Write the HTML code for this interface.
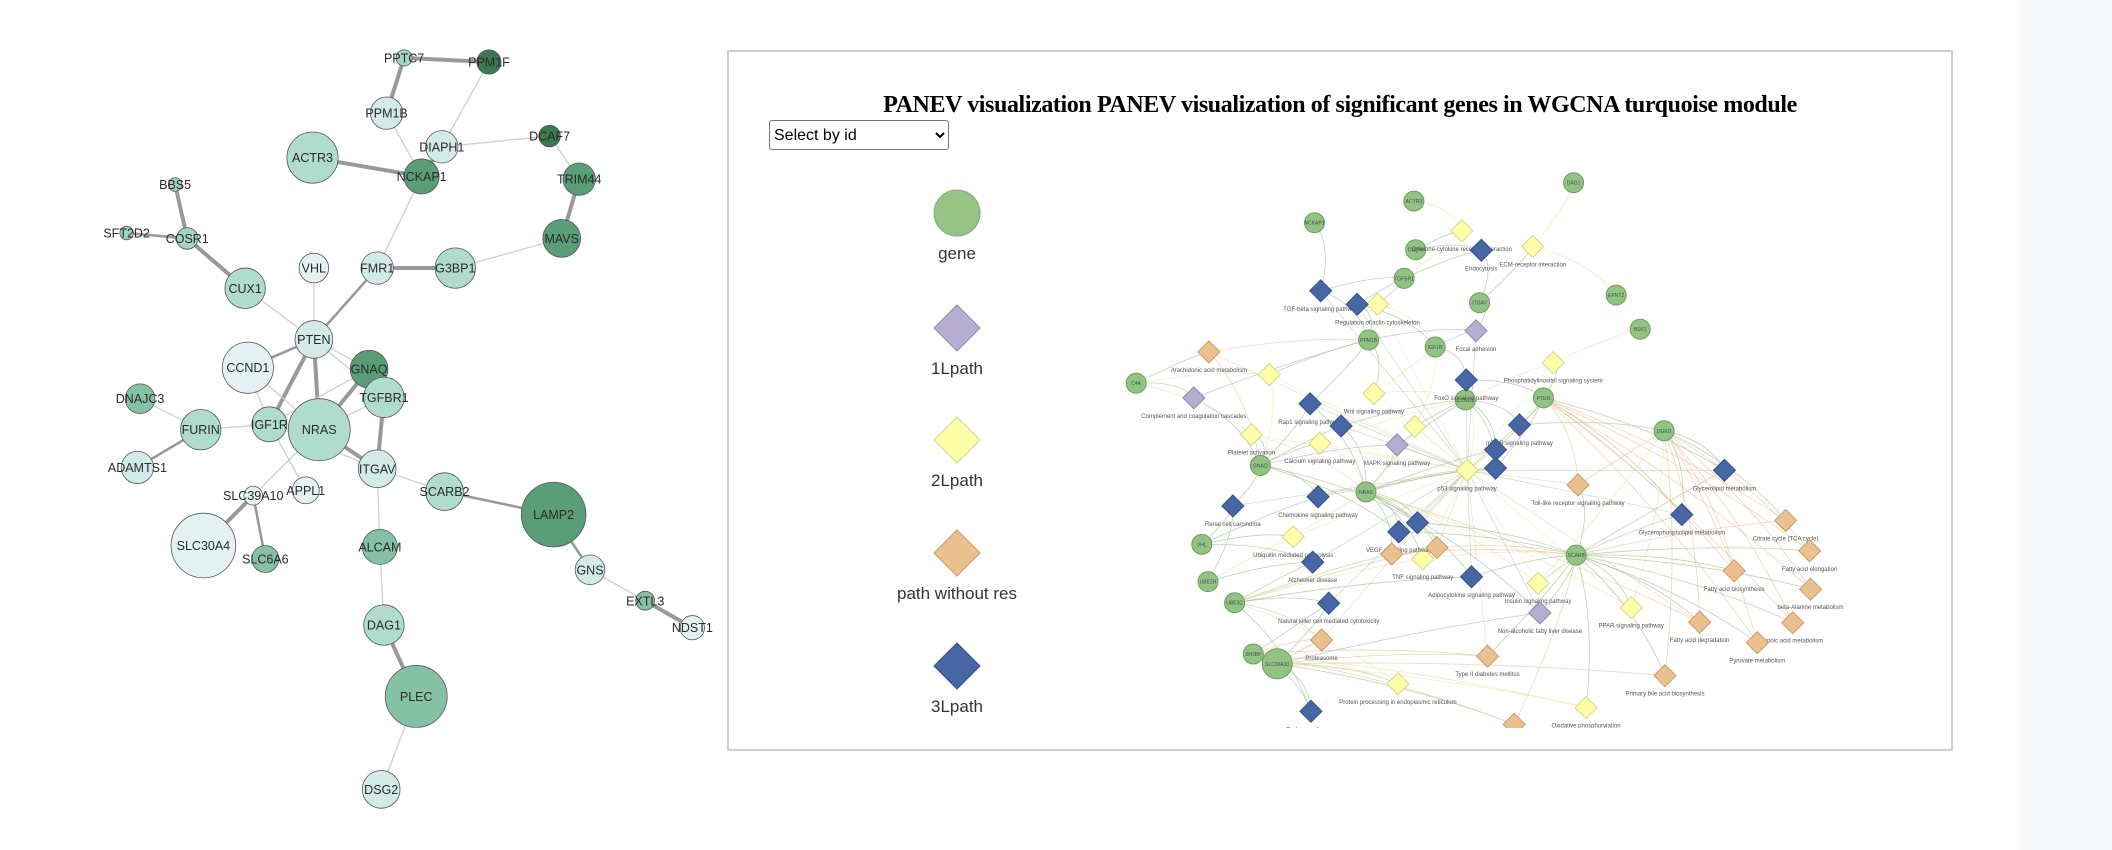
<!DOCTYPE html>
<html><head><meta charset="utf-8">
<style>
html,body{margin:0;padding:0;background:#fff;width:2112px;height:850px;overflow:hidden;font-family:"Liberation Sans",sans-serif}
#strip{position:absolute;left:2021px;top:0;width:91px;height:850px;background:#f7f8fa}
#left{position:absolute;left:0;top:0}
#panel{position:absolute;left:727px;top:50px;width:1222px;height:697px;border:2px solid #cfcfcf;box-sizing:content-box;background:#fff}
#title{position:absolute;left:0;width:1222px;top:40px;text-align:center;font-family:"Liberation Serif",serif;font-weight:bold;font-size:24px;color:#000;letter-spacing:-0.4px}
#sel{position:absolute;left:40px;top:68px;width:180px;height:30px;font-size:16px;border:1px solid #767676;border-radius:3px;background:#fff}
#right{position:absolute;left:0;top:0}
</style></head><body>
<div id="strip"></div>
<svg id="left" width="720" height="850"></svg>
<div id="panel">
<div id="title">PANEV visualization PANEV visualization of significant genes in WGCNA turquoise module</div>
<select id="sel"><option>Select by id</option></select>
<svg id="right" width="1222" height="697"></svg>
</div>
<script>
const NS="http://www.w3.org/2000/svg";
function mk(t,a,p){const e=document.createElementNS(NS,t);for(const k in a)e.setAttribute(k,a[k]);p.appendChild(e);return e;}
const geneNames=["PPTC7","PPM1F","PPM1B","DIAPH1","DCAF7","ACTR3","NCKAP1","TRIM44","BBS5","SFT2D2","COSR1","MAVS","CUX1","VHL","FMR1","G3BP1","PTEN","CCND1","GNAQ","TGFBR1","DNAJC3","FURIN","IGF1R","NRAS","ADAMTS1","ITGAV","APPL1","SLC39A10","SCARB2","LAMP2","SLC30A4","SLC6A6","ALCAM","GNS","EXTL3","NDST1","DAG1","PLEC","DSG2"];
const geneX=[300,363,287,328,408,232,313,430,130,94,139,417,182,233,280,338,233,184,274,285,104,149,200,237,102,280,227,188,330,411,151,197,282,438,479,514,285,309,283];
const geneY=[43,46,84,109,101,117,131,133,137,173,177,177,214,199,199,199,252,273,274,295,296,319,315,319,347,348,364,368,365,382,405,415,406,423,446,466,464,517,586];
const geneR=[6,9,12,12,8,19,13,12,5,5,8,14,15,11,12,15,14,19,14,15,11,15,13,23,12,14,10,7,14,24,24,10,13,11,7,9,15,23,14];
const geneShade=[3,6,1,1,6,2,5,5,3,3,3,5,2,0,1,2,1,0,5,2,4,2,2,2,1,1,0,0,2,5,0,4,4,1,4,0,2,4,1];
const shades=["#e4f2f4","#d3ebe8","#b0dccf","#a3d4c2","#86c1a6","#5a9e78","#3b7a4f"];
const edgeA=["PPTC7","PPTC7","PPM1B","PPM1F","DIAPH1","DIAPH1","DCAF7","TRIM44","ACTR3","NCKAP1","MAVS","FMR1","FMR1","BBS5","SFT2D2","COSR1","CUX1","VHL","PTEN","PTEN","PTEN","PTEN","PTEN","CCND1","CCND1","GNAQ","GNAQ","TGFBR1","TGFBR1","NRAS","IGF1R","IGF1R","IGF1R","NRAS","FURIN","FURIN","SLC39A10","SLC39A10","ITGAV","SCARB2","ITGAV","LAMP2","GNS","EXTL3","ALCAM","DAG1","PLEC"];
const edgeB=["PPM1F","PPM1B","NCKAP1","DIAPH1","NCKAP1","DCAF7","TRIM44","MAVS","NCKAP1","FMR1","G3BP1","G3BP1","PTEN","COSR1","COSR1","CUX1","PTEN","PTEN","CCND1","IGF1R","NRAS","GNAQ","TGFBR1","NRAS","IGF1R","NRAS","IGF1R","NRAS","ITGAV","ITGAV","FURIN","APPL1","ITGAV","SLC39A10","DNAJC3","ADAMTS1","SLC30A4","SLC6A6","SCARB2","LAMP2","ALCAM","GNS","EXTL3","NDST1","DAG1","PLEC","DSG2"];
const edgeW=[3,3,1,1,3,1,1,3,3,1,1,3,2,3,2,3,1,1,2,3,3,1,1,1,1,3,1,1,3,3,1,1,1,1,1,2,3,2,1,2,1,2,1,3,1,3,1];
const S=1.347;
const L=document.getElementById("left");
for(let i=0;i<edgeA.length;i++){const a=geneNames.indexOf(edgeA[i]),b=geneNames.indexOf(edgeB[i]);
 const ln=mk("line",{x1:geneX[a]*S,y1:geneY[a]*S,x2:geneX[b]*S,y2:geneY[b]*S,stroke:edgeW[i]>1?"#999":"#cfcfcf","stroke-width":edgeW[i]==3?4:edgeW[i]==2?2.6:1.3},L);
 
 }
for(let i=0;i<geneNames.length;i++){
 const c=mk("circle",{cx:geneX[i]*S,cy:geneY[i]*S,r:geneR[i]*S,fill:shades[geneShade[i]],stroke:"#555","stroke-width":0.8},L);
 
 
 const t=mk("text",{x:geneX[i]*S,y:geneY[i]*S+4.5,"text-anchor":"middle","font-size":12.5,fill:"#2a2a2a","font-family":"Liberation Sans, sans-serif"},L);
 t.textContent=geneNames[i];
 
 }
const R=document.getElementById("right");
function px(zx){return 720+zx/1.127-729;}
function py(zy){return zy/1.85-52;}
const rGeneX=[962,782,670,784,771,856,1010,1037,731,806,469,928,840,1064,609,728,543,550,580,601,628,965];
const rGeneY=[338,372,412,462,515,560,546,609,629,642,709,736,740,797,861,910,1007,1076,1115,1210,1228,1027];
const rGeneN=["DAG1","ACTR3","NCKAP1","DIAPH","TGFBR1","ITGAV","EPNT2","BSK1","PPM1B","IGF1R","C4A","PTEN","CCND1","DGKD","GNAQ","NRAS","VHL","UBE2H","UBE3C","SH3BP","SLC30A10","SCARB"];
const pathX=[836,916,741,939,619,737,783,599,676,842,646,792,922,1027,764,976, 852,534,763,924, 858,677,718,841,665,700,901,874,874,578,674,765,786,668,847,686,1132,1084,666, 551,967,757,808,1201,1228,1143,1229,1104,1209,1169,865,678,1065,895];
const pathY=[427,456,563,671,693,728,789,804,820,870,993,1034,1079,1124,1265,1309, 612,736,823,1134, 463,538,563,703,747,788,786,832,866,936,919,984,967,1040,1067,1116,870,952,1316, 651,897,1025,1013,963,1019,1056,1090,1151,1152,1189,1214,1184,1250,1340];
const pathType=[2,2,2,2,2,2,2,2,2,2,2,2,2,2,2,2, 1,1,1,1, 3,3,3,3,3,3,3,3,3,3,3,3,3,3,3,3,3,3,3, 0,0,0,0,0,0,0,0,0,0,0,0,0,0,0];
const pathN=["Cytokine-cytokine receptor interaction","ECM-receptor interaction","Regulation of actin cytoskeleton","Phosphatidylinositol signaling system","","Wnt signaling pathway","","Platelet activation","Calcium signaling pathway","p53 signaling pathway","Ubiquitin mediated proteolysis","TNF signaling pathway","Insulin signaling pathway","PPAR signaling pathway","Protein processing in endoplasmic reticulum","Oxidative phosphorylation","Focal adhesion","Complement and coagulation cascades","MAPK signaling pathway","Non-alcoholic fatty liver disease","Endocytosis","TGF-beta signaling pathway","","FoxO signaling pathway","Rap1 signaling pathway","","mTOR signaling pathway","","","Renal cell carcinoma","Chemokine signaling pathway","VEGF signaling pathway","","Alzheimer disease","Adipocytokine signaling pathway","Natural killer cell mediated cytotoxicity","Glycerolipid metabolism","Glycerophospholipid metabolism","Parkinson disease","Arachidonic acid metabolism","Toll-like receptor signaling pathway","","","Citrate cycle (TCA cycle)","Fatty acid elongation","Fatty acid biosynthesis","beta-Alanine metabolism","Fatty acid degradation","Lipoic acid metabolism","Pyruvate metabolism","Type II diabetes mellitus","Proteasome","Primary bile acid biosynthesis","Glycolysis / Gluconeogenesis"];
const fills=["#ebc28f","#b6aed0","#ffffaa","#4766a4"],strokes=["#c99a66","#9188b0","#d8d48a","#35528a"];
const ecol=["#e8c8a0","#b8b0d8","#e8e8b0","#a8c49a"];
const gClip=mk("clipPath",{id:"pc"},R);mk("rect",{x:0,y:0,width:1222,height:676},gClip);
const G=mk("g",{"clip-path":"url(#pc)"},R);
const hub=9;
for(let i=0;i<pathX.length;i++){
 const d=rGeneX.map((x,j)=>[(x-pathX[i])**2+(rGeneY[j]-pathY[i])**2,j]).sort((a,b)=>a[0]-b[0]);
 for(let k=0;k<3;k++){const j=d[k][1];
  const ln=mk("path",{d:`M${px(pathX[i])},${py(pathY[i])} Q${(px(pathX[i])+px(rGeneX[j]))/2+15},${(py(pathY[i])+py(rGeneY[j]))/2-10} ${px(rGeneX[j])},${py(rGeneY[j])}`,fill:"none",stroke:k==0?"#a8c49a":ecol[pathType[i]],"stroke-width":0.8,opacity:0.75},G);
  
  }
 if(i!=hub&&Math.abs(pathY[i]-pathY[hub])<350&&Math.abs(pathX[i]-pathX[hub])<300){const ln=mk("line",{x1:px(pathX[i]),y1:py(pathY[i]),x2:px(pathX[hub]),y2:py(pathY[hub]),stroke:ecol[pathType[i]],"stroke-width":0.7,opacity:0.6},G);
  
  }
}
for(let i=0;i<rGeneX.length;i++){
 const big=rGeneN[i]=="SLC30A10"?15:10;
 const c=mk("circle",{cx:px(rGeneX[i]),cy:py(rGeneY[i]),r:big,fill:"#93c383",stroke:"#6a9f5a","stroke-width":1},G);
 
 
 const t=mk("text",{x:px(rGeneX[i]),y:py(rGeneY[i])+2,"text-anchor":"middle","font-size":5,fill:"#355"},G);
 t.textContent=rGeneN[i];
 
 }
for(let i=0;i<pathX.length;i++){
 const x=px(pathX[i]),y=py(pathY[i]),h=11;
 const p=mk("polygon",{points:`${x},${y-h} ${x+h},${y} ${x},${y+h} ${x-h},${y}`,fill:fills[pathType[i]],stroke:strokes[pathType[i]],"stroke-width":1},G);
 
 
 if(pathN[i]){const t=mk("text",{x:x,y:y+h+9,"text-anchor":"middle","font-size":6,fill:"#555"},G);
 t.textContent=pathN[i];
 
 }}
const legN=["gene","1Lpath","2Lpath","path without res","3Lpath"];
const legY=[161,276,388,501,614];
const legT=[0,1,2,0,3];
for(let i=0;i<legN.length;i++){
 const x=228,y=legY[i];
 let e;
 if(i==0){e=mk("circle",{cx:x,cy:y,r:23,fill:"#97c387",stroke:"#7fae6f","stroke-width":1},R);}
 else{const f=i==3?0:legT[i];e=mk("polygon",{points:`${x},${y-23} ${x+23},${y} ${x},${y+23} ${x-23},${y}`,fill:fills[f],stroke:strokes[f],"stroke-width":1},R);}
 
 
 const t=mk("text",{x:x,y:y+46,"text-anchor":"middle","font-size":17,fill:"#333"},R);
 t.textContent=legN[i];
 
 }
</script>
</body></html>
